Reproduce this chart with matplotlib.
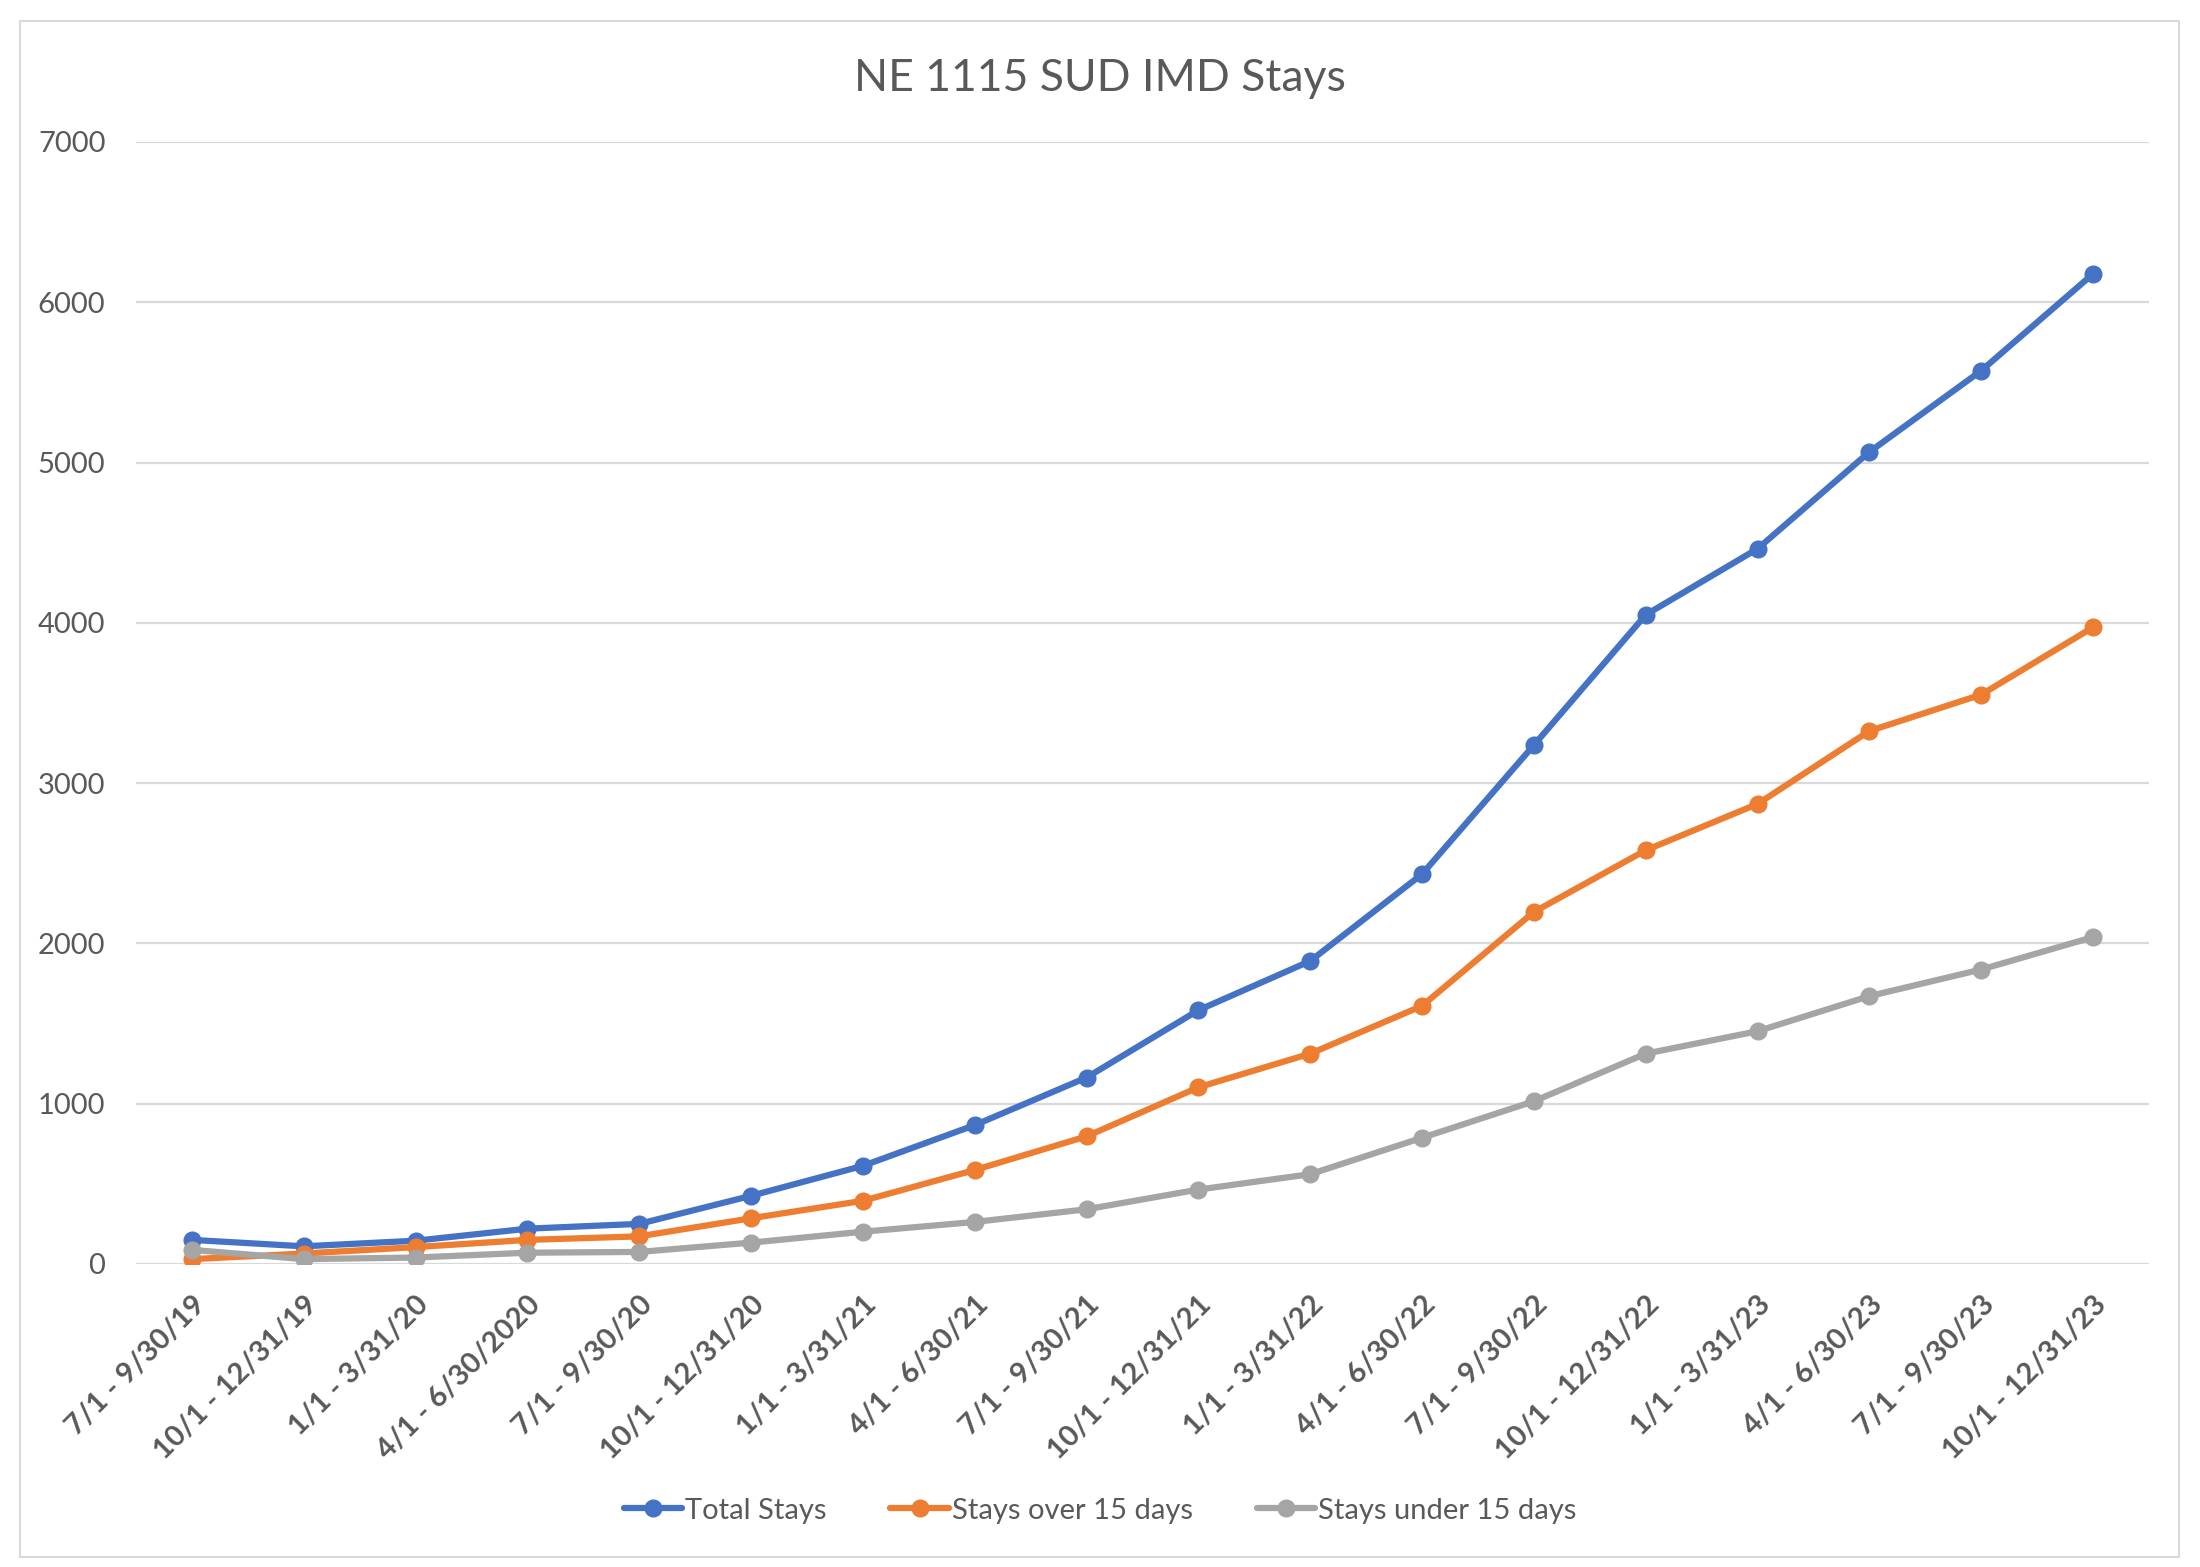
import matplotlib.pyplot as plt
from matplotlib.patches import Rectangle

plt.rcParams['font.family'] = ['Lato', 'DejaVu Sans']

quarters = ['7/1 - 9/30/19', '10/1 - 12/31/19', '1/1 - 3/31/20', '4/1 - 6/30/2020',
            '7/1 - 9/30/20', '10/1 - 12/31/20', '1/1 - 3/31/21', '4/1 - 6/30/21',
            '7/1 - 9/30/21', '10/1 - 12/31/21', '1/1 - 3/31/22', '4/1 - 6/30/22',
            '7/1 - 9/30/22', '10/1 - 12/31/22', '1/1 - 3/31/23', '4/1 - 6/30/23',
            '7/1 - 9/30/23', '10/1 - 12/31/23']
total_stays = [150, 110, 145, 220, 250, 425, 612, 866, 1163, 1583, 1890, 2432,
               3237, 4050, 4462, 5066, 5573, 6177]
over_15 = [30, 65, 105, 150, 172, 285, 394, 586, 796, 1102, 1312, 1610,
           2196, 2581, 2870, 3325, 3552, 3972]
under_15 = [88, 30, 40, 70, 75, 133, 201, 262, 341, 464, 560, 787,
            1015, 1312, 1452, 1671, 1837, 2039]

series = [('Total Stays', total_stays, '#4472C4'),
          ('Stays over 15 days', over_15, '#ED7D31'),
          ('Stays under 15 days', under_15, '#A5A5A5')]

fig = plt.figure(figsize=(22, 15.67), dpi=100)
ax = fig.add_axes([0.0618, 0.1934, 0.9150, 0.7160])

x = list(range(len(quarters)))
for name, vals, col in series:
    ax.plot(x, vals, color=col, lw=4.5, marker='o', ms=12, label=name,
            solid_capstyle='round', zorder=3)

ax.set_xlim(-0.5, len(quarters) - 0.5)
ax.set_ylim(0, 7000)
ax.set_yticks(range(0, 7001, 1000))
ax.grid(axis='y', color='#D9D9D9', lw=1.6, zorder=0)
for s in ax.spines.values():
    s.set_visible(False)
ax.tick_params(axis='y', length=0, labelsize=21, colors='#595959', pad=22)
ax.tick_params(axis='x', length=0, labelsize=21, colors='#595959', pad=20)
ax.set_xticks(x)
ax.set_xticklabels(quarters, rotation=45, ha='right', rotation_mode='anchor',
                   fontweight='bold')

fig.text(0.5, 0.950, 'NE 1115 SUD IMD Stays', ha='center', va='center',
         fontsize=32, color='#595959')

leg = fig.legend(loc='center', bbox_to_anchor=(0.5, 0.036), ncol=3, frameon=False,
                 fontsize=21, handlelength=2.0, handletextpad=0.1, columnspacing=2.2)
for t in leg.get_texts():
    t.set_color('#595959')

fig.patches.append(Rectangle((20 / 2200, 1 - 1557 / 1567), 2159 / 2200, 1536 / 1567,
                             transform=fig.transFigure, fill=False,
                             edgecolor='#D9D9D9', lw=1.5))

fig.savefig('out.png', dpi=100)
